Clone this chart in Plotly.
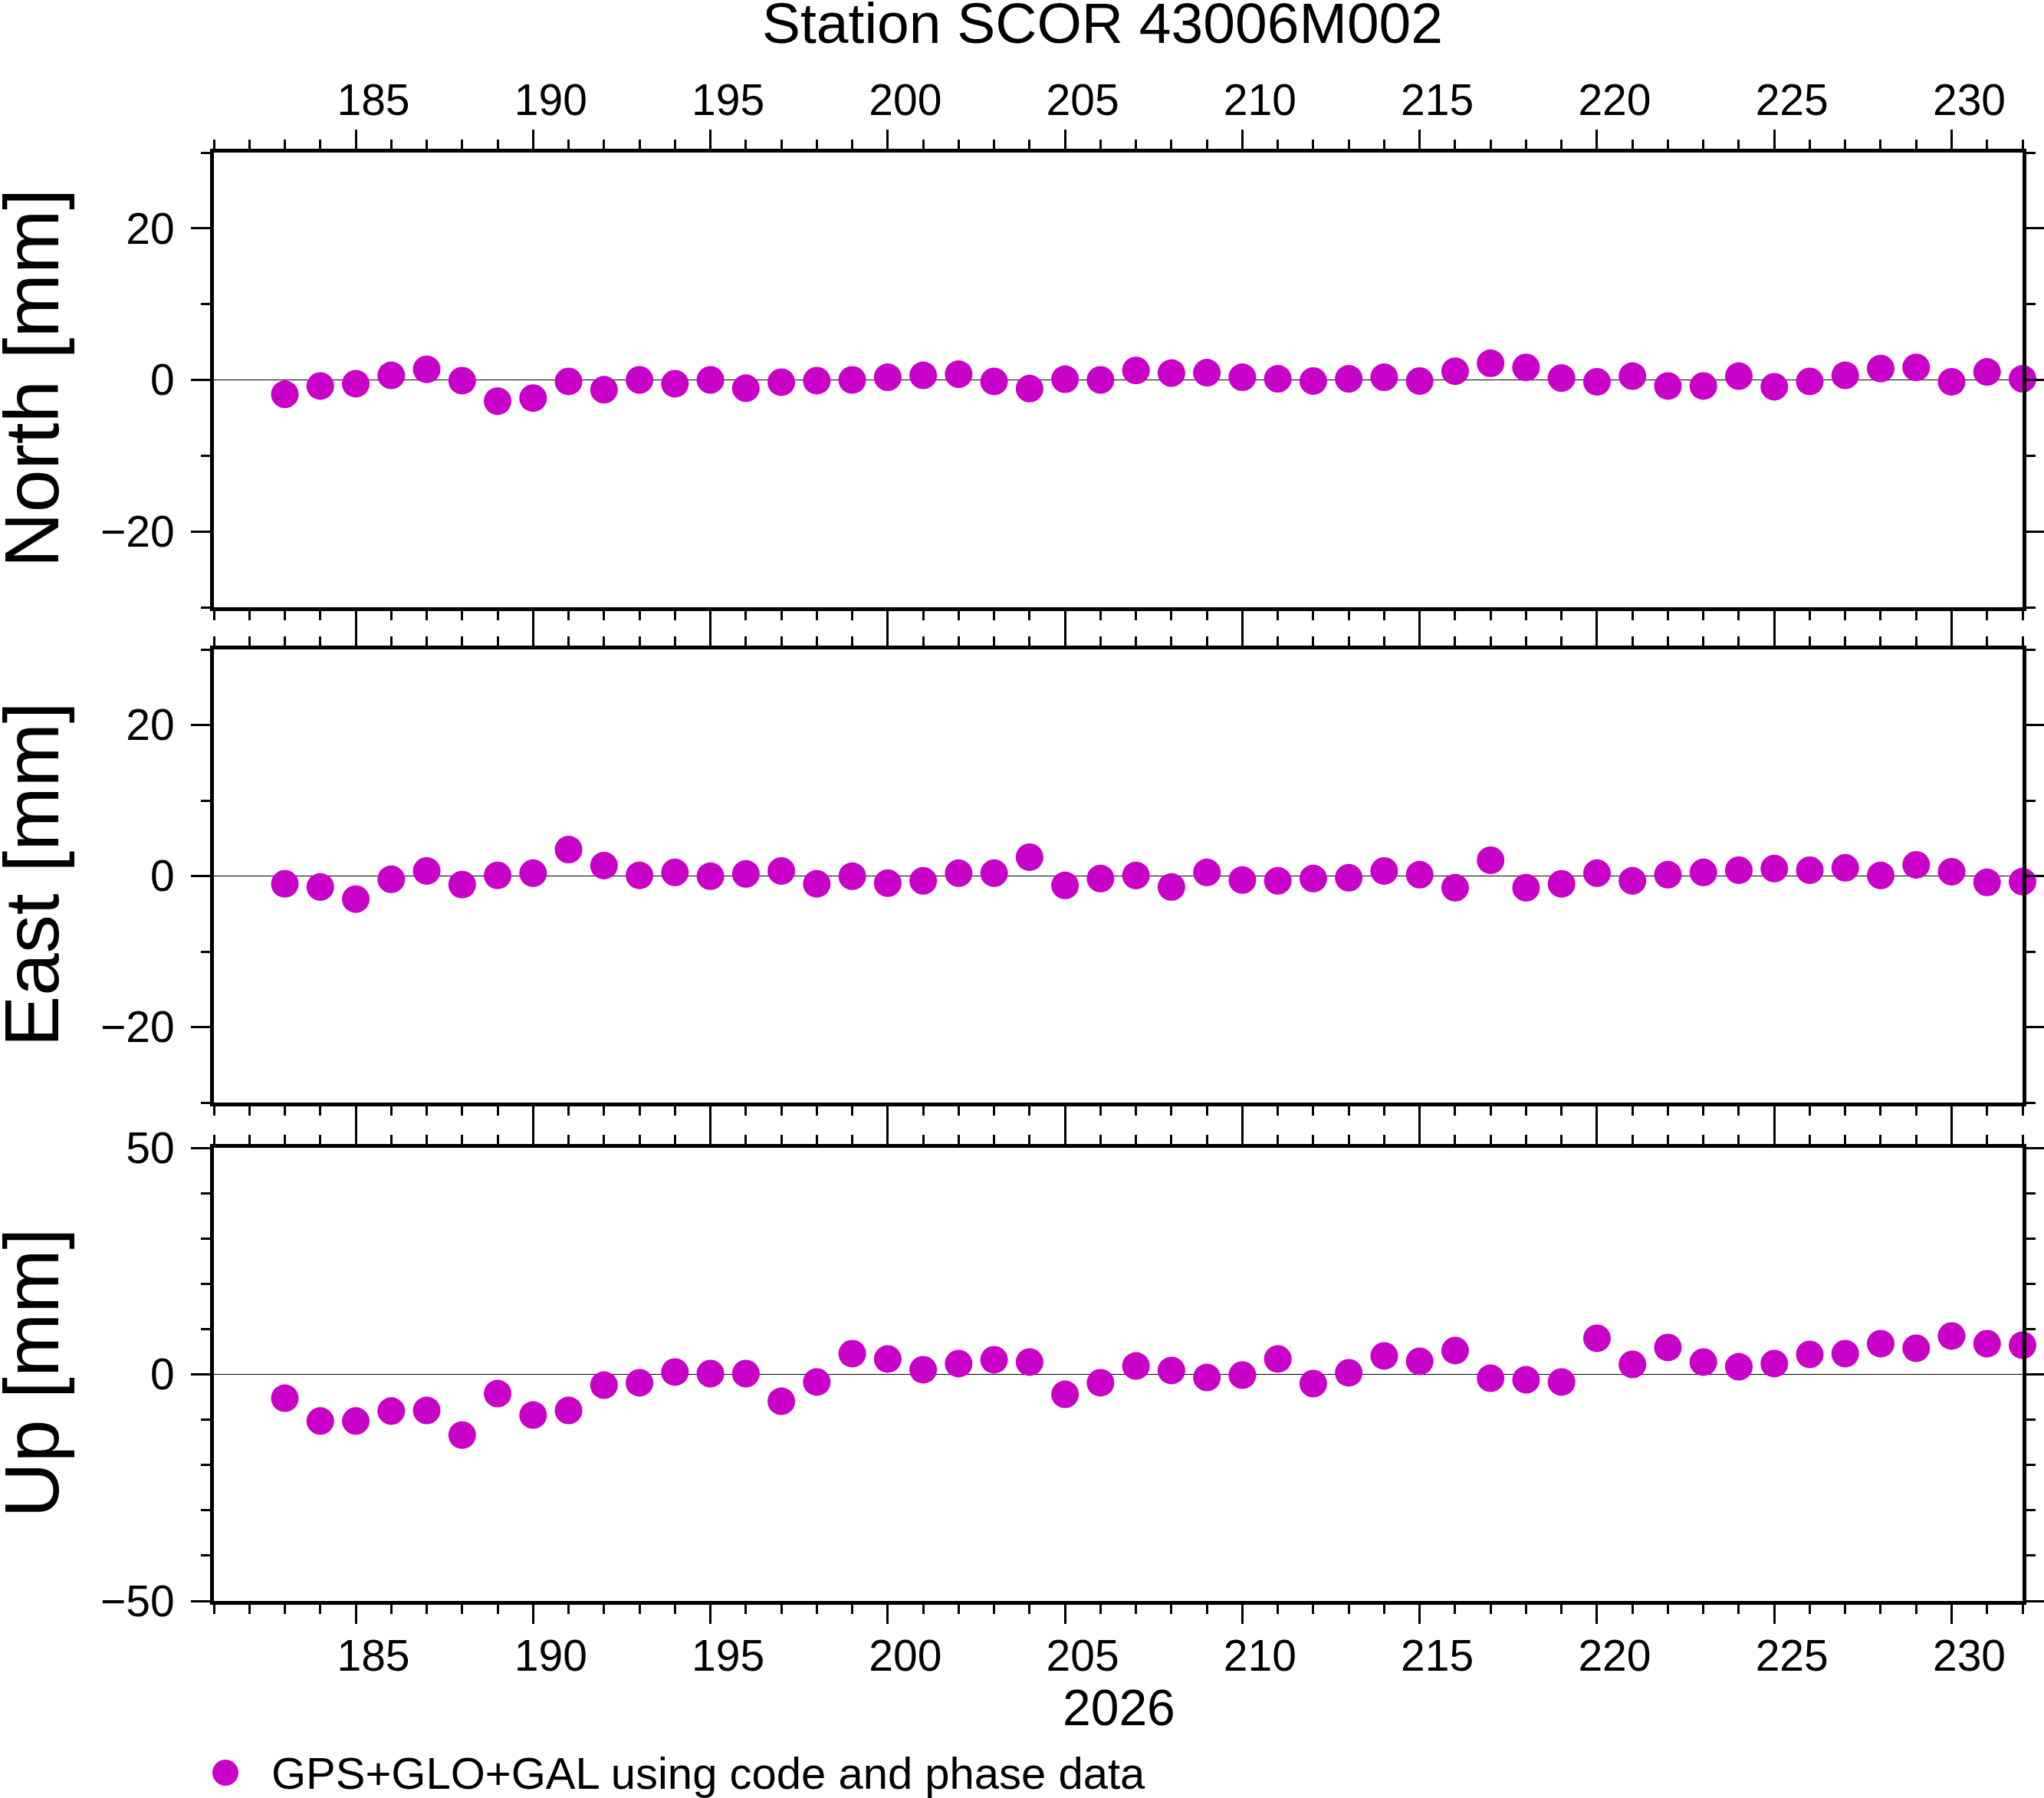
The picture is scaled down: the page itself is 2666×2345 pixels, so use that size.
import plotly.graph_objects as go
from plotly.subplots import make_subplots

# Day of year 2026
days = [183, 184, 185, 186, 187, 188, 189, 190, 191, 192,
        193, 194, 195, 196, 197, 198, 199, 200, 201, 202,
        203, 204, 205, 206, 207, 208, 209, 210, 211, 212,
        213, 214, 215, 216, 217, 218, 219, 220, 221, 222,
        223, 224, 225, 226, 227, 228, 229, 230, 231, 232]

# Residuals in mm
north = [-1.9, -0.8, -0.5, 0.6, 1.4, -0.1, -2.8, -2.4, -0.2, -1.3,
         0.0, -0.5, 0.0, -1.1, -0.3, -0.1, 0.0, 0.35, 0.6, 0.75,
         -0.2, -1.15, 0.1, 0.0, 1.25, 0.9, 0.95, 0.35, 0.15, -0.15,
         0.15, 0.35, -0.15, 1.15, 2.2, 1.65, 0.25, -0.25, 0.5, -0.8,
         -0.8, 0.5, -0.9, -0.2, 0.6, 1.5, 1.65, -0.25, 1.05, 0.15]

east = [-1.04, -1.45, -3.06, -0.44, 0.67, -1.14, 0.08, 0.37, 3.5, 1.38,
        0.08, 0.47, -0.03, 0.27, 0.67, -1.04, -0.03, -0.94, -0.64, 0.37,
        0.37, 2.49, -1.25, -0.34, 0.07, -1.45, 0.47, -0.54, -0.64, -0.34,
        -0.24, 0.67, 0.17, -1.55, 2.09, -1.55, -1.04, 0.37, -0.64, 0.17,
        0.47, 0.77, 0.98, 0.77, 1.08, 0.07, 1.48, 0.57, -0.84, -0.74]

up = [-5.25, -10.3, -10.3, -8.1, -7.97, -13.4, -4.24, -8.98, -7.97, -2.37,
      -1.86, 0.51, 0.17, 0.17, -5.93, -1.69, 4.58, 3.39, 1.02, 2.37,
      3.22, 2.71, -4.41, -1.86, 1.86, 0.85, -0.68, -0.17, 3.39, -2.03,
      0.34, 4.07, 2.88, 5.25, -0.85, -1.19, -1.69, 7.97, 2.20, 5.93,
      2.71, 1.69, 2.37, 4.41, 4.58, 6.78, 5.76, 8.47, 6.78, 6.44]

station = "Station SCOR 43006M002"
year_label = "2026"
legend_label = "GPS+GLO+GAL using code and phase data"
components = ["North [mm]", "East [mm]", "Up [mm]"]

FONT = "Liberation Sans"
COLOR = "#C800C8"

W, H = 2666, 2345
ML, MR, MT, MB = 279, 28, 199, 257
PW = W - ML - MR
PH = H - MT - MB


def py(pix):
    # pixel row -> paper y
    return (H - MB - pix) / PH


def px(pix):
    # pixel column -> paper x
    return (pix - ML) / PW


fig = make_subplots(rows=3, cols=1)

for i, vals in enumerate([north, east, up]):
    fig.add_trace(
        go.Scatter(x=days, y=vals, mode="markers",
                   marker=dict(color=COLOR, size=36, line=dict(width=0)),
                   cliponaxis=False, showlegend=False),
        row=i + 1, col=1
    )

axis_common = dict(
    showline=True, linewidth=5, linecolor="black", mirror="ticks",
    ticks="outside", ticklen=25, tickwidth=3, tickcolor="black",
    showgrid=False,
    tickfont=dict(family=FONT, size=57, color="black"),
    minor=dict(ticks="outside", ticklen=12, tickwidth=3,
               tickcolor="black", showgrid=False),
)

x_common = dict(axis_common, range=[181, 232], tickmode="linear",
                tick0=0, dtick=5, zeroline=False, ticklabelshift=23)
x_common["minor"] = dict(axis_common["minor"], dtick=1)

fig.update_layout(
    xaxis=dict(x_common, side="top", showticklabels=True, ticklabelstandoff=-4),
    xaxis2=dict(x_common, showticklabels=False),
    xaxis3=dict(x_common, side="bottom", showticklabels=True, ticklabelstandoff=-7),
)

panels = [(199, 792, [-30, 30], 20), (847, 1438, [-30, 30], 20),
          (1497, 2088, [-50, 50], 50)]
for i, (top, bot, rng, dt) in enumerate(panels):
    ya = dict(axis_common, range=rng, tickmode="linear", tick0=0, dtick=dt,
              domain=[py(bot), py(top)], ticklabelstandoff=10,
              zeroline=True, zerolinecolor="black", zerolinewidth=1)
    ya["minor"] = dict(axis_common["minor"], dtick=10)
    fig.update_layout({f"yaxis{'' if i == 0 else i + 1}": ya})

annotations = [
    dict(text=station, x=px(1438), y=py(30), xref="paper", yref="paper",
         xanchor="center", yanchor="middle", showarrow=False,
         font=dict(family=FONT, size=75, color="black")),
    dict(text=year_label, x=px(1459), y=py(2227), xref="paper", yref="paper",
         xanchor="center", yanchor="middle", showarrow=False,
         font=dict(family=FONT, size=66, color="black")),
    dict(text=legend_label, x=px(352), y=py(2312), xref="paper", yref="paper",
         xanchor="left", yanchor="middle", showarrow=False,
         font=dict(family=FONT, size=58, color="black")),
]
for (top, bot, _, _), name in zip(panels, components):
    annotations.append(
        dict(text=name, x=px(40), y=py((top + bot) / 2 - 2), xref="paper",
             yref="paper", xanchor="center", yanchor="middle",
             textangle=-90, showarrow=False,
             font=dict(family=FONT, size=100, color="black"))
    )

# legend symbol
shapes = [dict(type="circle", xref="paper", yref="paper",
               xsizemode="pixel", ysizemode="pixel",
               xanchor=px(294), yanchor=py(2312),
               x0=-17, x1=17, y0=-17, y1=17,
               fillcolor=COLOR, line=dict(width=0))]

fig.update_layout(
    width=W, height=H,
    margin=dict(l=ML, r=MR, t=MT, b=MB, autoexpand=False),
    paper_bgcolor="white", plot_bgcolor="white",
    font=dict(family=FONT, color="black"),
    showlegend=False,
    annotations=annotations,
    shapes=shapes,
)

# drop the default 8px page margin so the figure fills the window
fig.write_html("out.html",
               config={"displayModeBar": False},
               post_script="document.body.style.margin='0px';"
                           "document.body.style.overflow='hidden';")
